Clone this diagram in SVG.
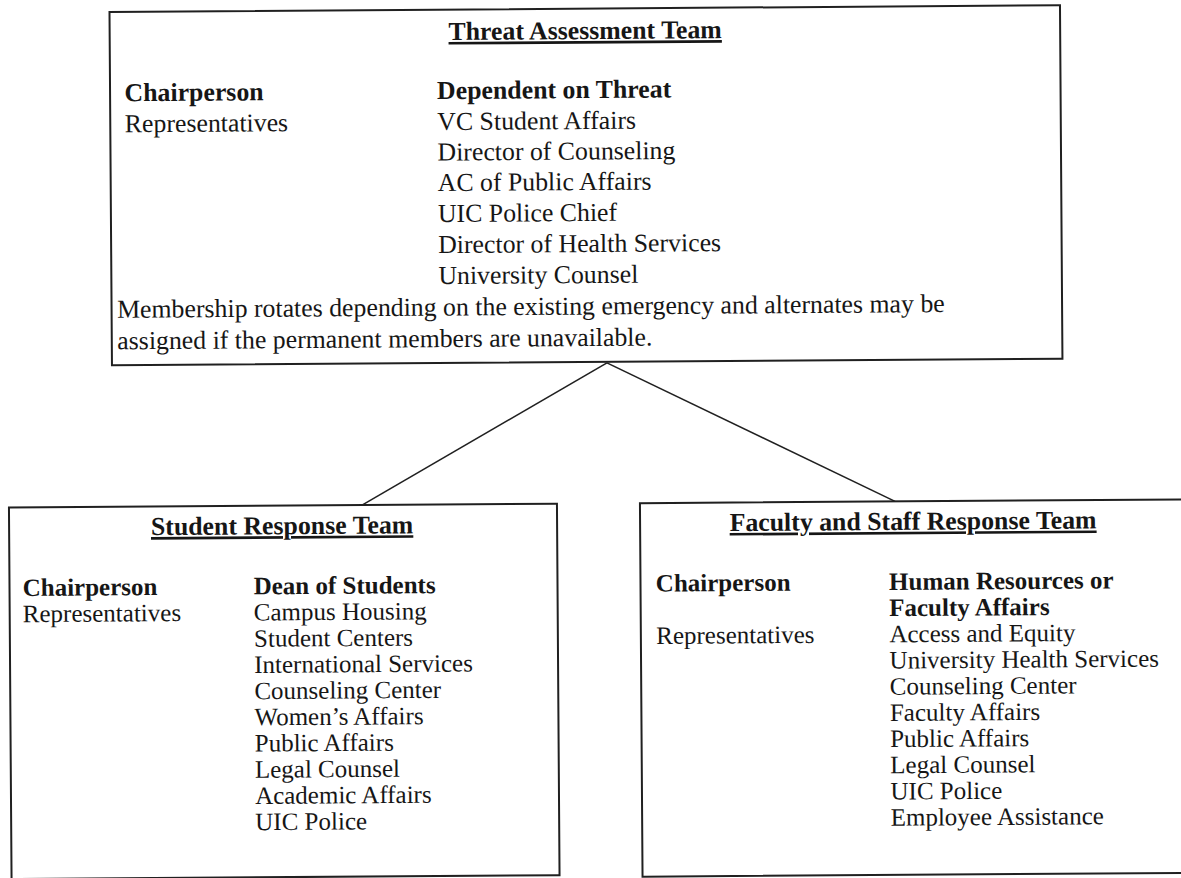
<svg xmlns="http://www.w3.org/2000/svg" width="1181" height="878" viewBox="0 0 1181 878">
<style>
  text { font-family: "Liberation Serif", "Times New Roman", serif; fill: #161616; }
  .t { font-size: 25.8px; font-weight: bold; text-anchor: middle; text-decoration: underline; }
  .b { font-weight: bold; }
  .top { font-size: 25.8px; }
  .low { font-size: 25px; }
  .box { fill: none; stroke: #202020; stroke-width: 2; }
  .con { stroke: #202020; stroke-width: 1.6; fill: none; }
</style>
<rect x="0" y="0" width="1181" height="878" fill="#ffffff"/>
<g transform="rotate(-0.4 590 440)">
<g id="connectors">
  <line class="con" x1="607.5" y1="363" x2="361.6" y2="503.5"/>
  <line class="con" x1="607.5" y1="363" x2="894.6" y2="503.5"/>
</g>
<g id="threat-assessment-team">
  <rect class="box" x="112.5" y="8.6" width="950.5" height="353.4"/>
  <text class="t" x="588" y="39">Threat Assessment Team</text>
  <g class="top">
    <text class="b" x="127" y="98">Chairperson</text>
    <text x="127" y="129">Representatives</text>
    <text class="b" x="439.5" y="98">Dependent on Threat</text>
    <text x="439.5" y="129">VC Student Affairs</text>
    <text x="439.5" y="159.5">Director of Counseling</text>
    <text x="439.5" y="190">AC of Public Affairs</text>
    <text x="439.5" y="221">UIC Police Chief</text>
    <text x="439.5" y="252">Director of Health Services</text>
    <text x="439.5" y="283">University Counsel</text>
    <text x="118" y="314.5">Membership rotates depending on the existing emergency and alternates may be</text>
    <text x="118" y="346">assigned if the permanent members are unavailable.</text>
  </g>
</g>
<g id="student-response-team">
  <rect class="box" x="8.5" y="503.5" width="548" height="371.5"/>
  <text class="t" x="281.5" y="532">Student Response Team</text>
  <g class="low">
    <text class="b" x="21.6" y="592">Chairperson</text>
    <text x="21.6" y="618.2">Representatives</text>
    <text class="b" x="252.6" y="592">Dean of Students</text>
    <text x="252.6" y="618.2">Campus Housing</text>
    <text x="252.6" y="644.4">Student Centers</text>
    <text x="252.6" y="670.6">International Services</text>
    <text x="252.6" y="696.8">Counseling Center</text>
    <text x="252.6" y="723">Women’s Affairs</text>
    <text x="252.6" y="749.2">Public Affairs</text>
    <text x="252.6" y="775.4">Legal Counsel</text>
    <text x="252.6" y="801.6">Academic Affairs</text>
    <text x="252.6" y="827.8">UIC Police</text>
  </g>
</g>
<g id="faculty-staff-response-team">
  <rect class="box" x="639.5" y="503.5" width="570" height="373.5"/>
  <text class="t" x="912.5" y="532">Faculty and Staff Response Team</text>
  <g class="low">
    <text class="b" x="654.8" y="592">Chairperson</text>
    <text x="654.8" y="644.4">Representatives</text>
    <text class="b" x="888" y="592">Human Resources or</text>
    <text class="b" x="888" y="618.2">Faculty Affairs</text>
    <text x="888" y="644.4">Access and Equity</text>
    <text x="888" y="670.6">University Health Services</text>
    <text x="888" y="696.8">Counseling Center</text>
    <text x="888" y="723">Faculty Affairs</text>
    <text x="888" y="749.2">Public Affairs</text>
    <text x="888" y="775.4">Legal Counsel</text>
    <text x="888" y="801.6">UIC Police</text>
    <text x="888" y="827.8">Employee Assistance</text>
  </g>
</g>
</g>
</svg>
